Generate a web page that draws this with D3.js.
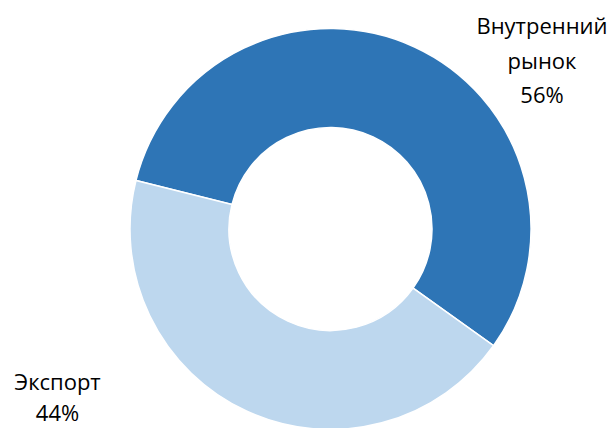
<!DOCTYPE html>
<html>
<head>
<meta charset="utf-8">
<script src="https://cdn.jsdelivr.net/npm/d3@7"></script>
<style>
  html, body { margin: 0; padding: 0; background: #fff; }
  svg { display: block; }
  text { font-family: "Open Sans", "Noto Sans", sans-serif; font-size: 22px; fill: #000; }
</style>
</head>
<body>
<svg id="chart" width="612" height="428"></svg>
<script>
const categories = ["Внутренний рынок", "Экспорт"];
const values = [56, 44];
const colors = ["#2E75B6", "#BDD7EE"];
const labelLines = [["Внутренний", "рынок", "56%"], ["Экспорт", "44%"]];

const width = 612, height = 428;
const cx = 330.5, cy = 229, rOuter = 200.5, rInner = 101.5;
const midDeg = 24.8;
const startAngle = (midDeg - values[0] / 100 * 180) * Math.PI / 180;

const svg = d3.select("#chart");
const g = svg.append("g").attr("transform", `translate(${cx},${cy})`);

const pie = d3.pie().sort(null).value(d => d)
  .startAngle(startAngle).endAngle(startAngle + 2 * Math.PI);
const arc = d3.arc().innerRadius(rInner).outerRadius(rOuter);

g.selectAll("path").data(pie(values)).join("path")
  .attr("d", arc)
  .attr("fill", (d, i) => colors[i])
  .attr("stroke", "#fff")
  .attr("stroke-width", 1.5);

const labelPos = [{x: 542, y: 34}, {x: 57.5, y: 390}];
const lineH = [34.5, 30.5];
labelLines.forEach((lines, i) => {
  const t = svg.append("text").attr("text-anchor", "middle");
  lines.forEach((s, j) => {
    t.append("tspan").attr("x", labelPos[i].x).attr("y", labelPos[i].y + j * lineH[i]).text(s);
  });
});
</script>
</body>
</html>
